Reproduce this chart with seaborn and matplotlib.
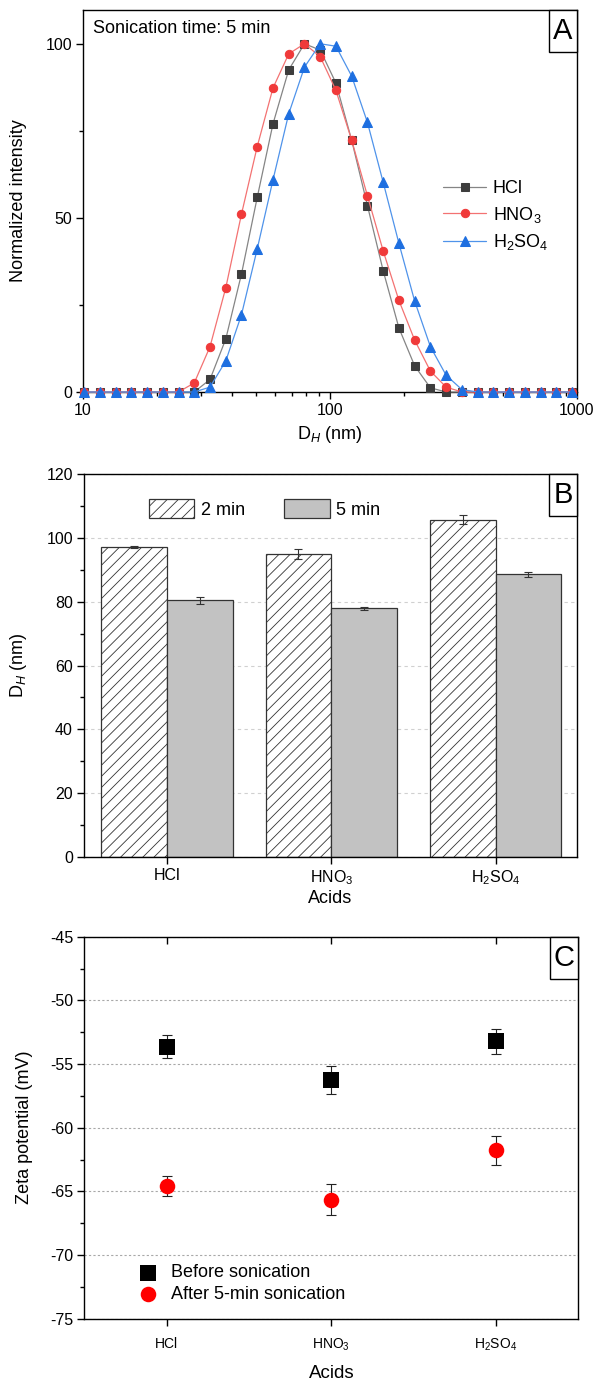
import numpy as np
import pandas as pd
import matplotlib
matplotlib.use("Agg")
import matplotlib.pyplot as plt
import seaborn as sns
from matplotlib.patches import Rectangle
from matplotlib.ticker import MultipleLocator, LogLocator, FixedLocator, FixedFormatter, NullFormatter

sns.set_theme(style="ticks")
plt.rcParams["font.family"] = ["Liberation Sans", "DejaVu Sans"]
plt.rcParams["mathtext.fontset"] = "custom"
plt.rcParams["mathtext.rm"] = "Liberation Sans"
plt.rcParams["mathtext.it"] = "Liberation Sans:italic"
plt.rcParams["mathtext.bf"] = "Liberation Sans:bold"
plt.rcParams["axes.unicode_minus"] = False
plt.rcParams["hatch.linewidth"] = 0.6
plt.rcParams["axes.edgecolor"] = "black"
plt.rcParams["axes.linewidth"] = 1.0
plt.rcParams["xtick.color"] = "black"
plt.rcParams["ytick.color"] = "black"
plt.rcParams["text.color"] = "black"
plt.rcParams["axes.labelcolor"] = "black"

# ---------------- data ----------------
# Panel A: DLS size distribution (sonication 5 min)
size_nm = [10.1, 11.7, 13.54, 15.69, 18.17, 21.04, 24.36, 28.21, 32.67, 37.84,
           43.82, 50.75, 58.77, 68.06, 78.82, 91.28, 105.7, 122.4, 141.8, 164.2,
           190.1, 220.2, 255.0, 295.3, 342.0, 396.1, 458.7, 531.2, 615.1, 712.4,
           825.0, 955.4]
hcl_int = [0, 0, 0, 0, 0, 0, 0, 0, 3.6, 15.2,
           33.9, 55.9, 77.0, 92.5, 100, 98.2, 88.7, 72.3, 53.5, 34.8,
           18.4, 7.5, 1.2, 0, 0, 0, 0, 0, 0, 0,
           0, 0]
hno3_int = [0, 0, 0, 0, 0, 0, 0, 2.6, 13.0, 29.9,
            51.1, 70.5, 87.3, 97.1, 100, 96.3, 86.6, 72.3, 56.3, 40.5,
            26.3, 14.9, 6.0, 1.4, 0, 0, 0, 0, 0, 0,
            0, 0]
h2so4_int = [0, 0, 0, 0, 0, 0, 0, 0, 1.4, 8.9,
             22.2, 41.1, 60.9, 79.9, 93.3, 100, 99.3, 90.7, 77.4, 60.2,
             42.7, 26.1, 13.0, 4.8, 0.7, 0, 0, 0, 0, 0,
             0, 0]
series_names = ["HCl", "HNO$_3$", "H$_2$SO$_4$"]

# Panel B: hydrodynamic diameter
acids = ["HCl", "HNO$_3$", "H$_2$SO$_4$"]
dh_2min = [97.3, 95.1, 105.8]
dh_2min_err = [0.3, 1.6, 1.5]
dh_5min = [80.4, 77.9, 88.6]
dh_5min_err = [1.0, 0.5, 0.7]
times = ["2 min", "5 min"]

# Panel C: zeta potential
zeta_before = [-53.63, -56.22, -53.21]
zeta_before_err = [0.92, 1.1, 1.0]
zeta_after = [-64.59, -65.66, -61.79]
zeta_after_err = [0.77, 1.2, 1.14]
cond_names = ["Before sonication", "After 5-min sonication"]

# ---------------- figure ----------------
W, H = 597, 1386
fig = plt.figure(figsize=(W / 100, H / 100), dpi=100)
axA = fig.add_axes([83 / W, 1 - 392 / H, 494 / W, 382 / H])
axB = fig.add_axes([84 / W, 1 - 856.7 / H, 493 / W, 382.4 / H])
axC = fig.add_axes([84.4 / W, 1 - 1318.7 / H, 494 / W, 382 / H])

TICK_FS = 11.5
LAB_FS = 13


def panel_label(ax, letter):
    w, h = 28 / 494, 42 / 382
    ax.add_patch(Rectangle((1 - w, 1 - h), w, h, transform=ax.transAxes,
                           facecolor="white", edgecolor="black", lw=1.0,
                           zorder=10, clip_on=False))
    ax.text(1 - w / 2, 1 - h / 2, letter, transform=ax.transAxes,
            ha="center", va="center", fontsize=21, zorder=11)


def style_ticks(ax):
    ax.tick_params(which="major", direction="out", length=5, width=1.0,
                   labelsize=TICK_FS, pad=3)
    ax.tick_params(which="minor", direction="out", length=3, width=1.0)
    for s in ax.spines.values():
        s.set_visible(True)
        s.set_linewidth(1.0)
        s.set_color("black")


# ---------------- Panel A ----------------
axA.set_xscale("log")
styles = [
    (hcl_int, "#858585", "#3d3d3d", "s", 5.2),
    (hno3_int, "#f37272", "#f03a3a", "o", 6.0),
    (h2so4_int, "#4f93ea", "#1e6fe0", "^", 6.8),
]
for name, (vals, lc, mc, mk, ms) in zip(series_names, styles):
    sns.lineplot(x=size_nm, y=vals, ax=axA, color=lc, lw=0.9, marker=mk,
                 markersize=ms, markerfacecolor=mc, markeredgecolor=mc,
                 label=name, clip_on=False, zorder=3)
axA.set_xlim(10, 1000)
axA.set_ylim(0, 109.7)
axA.xaxis.set_major_locator(FixedLocator([10, 100, 1000]))
axA.xaxis.set_major_formatter(FixedFormatter(["10", "100", "1000"]))
axA.xaxis.set_minor_locator(LogLocator(base=10, subs=np.arange(2, 10)))
axA.xaxis.set_minor_formatter(NullFormatter())
axA.yaxis.set_major_locator(MultipleLocator(50))
axA.yaxis.set_minor_locator(MultipleLocator(25))
style_ticks(axA)
axA.set_ylabel("Normalized intensity", fontsize=LAB_FS)
axA.set_xlabel(r"D$_{\mathit{H}}$ (nm)", fontsize=LAB_FS)
axA.yaxis.set_label_coords(-0.113, 0.5)
axA.xaxis.set_label_coords(0.5, -0.085)
axA.text(0.0196, 0.939, "Sonication time: 5 min", transform=axA.transAxes,
         fontsize=13, ha="left", va="baseline")
axA.legend(loc="center left", bbox_to_anchor=(0.729, 0.46), frameon=False,
           fontsize=LAB_FS, handlelength=2.4, handletextpad=0.35,
           borderpad=0, borderaxespad=0, labelspacing=0.42, numpoints=1)
panel_label(axA, "A")

# ---------------- Panel B ----------------
dfB = pd.DataFrame({
    "acid": acids * 2,
    "time": [times[0]] * 3 + [times[1]] * 3,
    "dh": dh_2min + dh_5min,
})
sns.barplot(data=dfB, x="acid", y="dh", hue="time", order=acids, hue_order=times,
            palette={times[0]: "white", times[1]: "#c2c2c2"}, saturation=1,
            edgecolor="#333333", linewidth=0.9, errorbar=None, width=0.8,
            gap=0, ax=axB, legend=False, zorder=2)
for bar in axB.containers[0]:
    bar.set_hatch("///")
for cont, errs in zip(axB.containers[:2], [dh_2min_err, dh_5min_err]):
    xs = [b.get_x() + b.get_width() / 2 for b in cont]
    ys = [b.get_height() for b in cont]
    axB.errorbar(xs, ys, yerr=errs, fmt="none", ecolor="#333333",
                 elinewidth=0.8, capsize=3, capthick=0.8, zorder=4)
axB.set_xlim(-0.506, 2.496)
axB.set_ylim(0, 120)
axB.yaxis.set_major_locator(MultipleLocator(20))
axB.yaxis.set_minor_locator(MultipleLocator(10))
axB.yaxis.grid(True, which="major", color="#d0d0d0", lw=0.8,
               linestyle=(0, (3, 3)), zorder=0)
axB.set_axisbelow(True)
style_ticks(axB)
axB.tick_params(axis="x", which="minor", bottom=False)
axB.set_ylabel(r"D$_{\mathit{H}}$ (nm)", fontsize=LAB_FS)
axB.set_xlabel("Acids", fontsize=LAB_FS)
axB.yaxis.set_label_coords(-0.112, 0.5)
axB.xaxis.set_label_coords(0.5, -0.088)
legB = axB.legend(handles=[axB.containers[0][0], axB.containers[1][0]],
                  labels=times, loc="center left",
                  bbox_to_anchor=(0.132, 0.909), ncol=2, frameon=False,
                  fontsize=LAB_FS, handlelength=2.5, handleheight=1.2,
                  handletextpad=0.35, columnspacing=2.2, borderpad=0,
                  borderaxespad=0)
panel_label(axB, "B")

# ---------------- Panel C ----------------
for vals, errs, name, mk, col in [
    (zeta_before, zeta_before_err, cond_names[0], "s", "black"),
    (zeta_after, zeta_after_err, cond_names[1], "o", "#ff0000"),
]:
    axC.errorbar(acids, vals, yerr=errs, fmt="none", ecolor="#222222",
                 elinewidth=0.8, capsize=3.3, capthick=0.8, zorder=2)
    sns.scatterplot(x=acids, y=vals, marker=mk, color=col, s=125,
                    edgecolor=col, linewidth=0, label=name, ax=axC, zorder=3)
axC.set_xlim(-0.5, 2.5)
axC.set_ylim(-75, -45)
axC.yaxis.set_major_locator(MultipleLocator(5))
axC.yaxis.set_minor_locator(MultipleLocator(2.5))
axC.yaxis.grid(True, which="major", color="#a8a8a8", lw=0.8,
               linestyle=(0, (2, 2)), zorder=0)
axC.set_axisbelow(True)
style_ticks(axC)
axC.tick_params(axis="x", which="major", labelsize=10, pad=8)
axC.tick_params(axis="x", which="minor", bottom=False)
sec = axC.secondary_xaxis("top")
sec.set_xticks([0, 1, 2])
sec.tick_params(direction="in", length=5, width=1.0, labeltop=False)
sec.spines["top"].set_visible(False)
axC.set_ylabel("Zeta potential (mV)", fontsize=LAB_FS)
axC.set_xlabel("Acids", fontsize=13.5)
axC.yaxis.set_label_coords(-0.104, 0.5)
axC.xaxis.set_label_coords(0.5, -0.122)
axC.legend(loc="center left", bbox_to_anchor=(0.11, 0.092), frameon=False,
           fontsize=LAB_FS, handlelength=1.0, handletextpad=0.8,
           borderpad=0, borderaxespad=0, labelspacing=0.25, scatterpoints=1)
panel_label(axC, "C")

fig.savefig("out.png", dpi=100)
